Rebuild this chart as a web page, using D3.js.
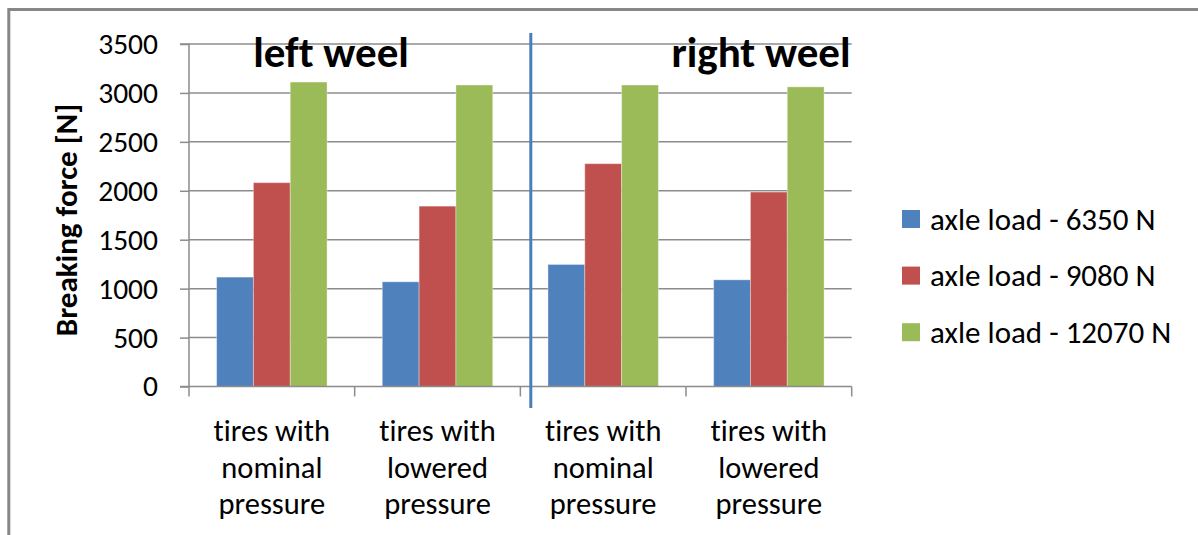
<!DOCTYPE html>
<html>
<head>
<meta charset="utf-8">
<script src="https://cdn.jsdelivr.net/npm/d3@7"></script>
<style>
  html, body { margin: 0; padding: 0; background: #fff; }
  svg { display: block; }
  text { font-family: Calibri, Carlito, "Liberation Sans", Arial, sans-serif; fill: #000;
         font-variant-ligatures: none; font-feature-settings: "liga" 0; }
</style>
</head>
<body>
<svg id="chart" width="1198" height="535"></svg>
<script>
// ---- data ----
const categories = [
  ["tires with", "nominal", "pressure"],
  ["tires with", "lowered", "pressure"],
  ["tires with", "nominal", "pressure"],
  ["tires with", "lowered", "pressure"]
];
const seriesNames = ["axle load - 6350 N", "axle load - 9080 N", "axle load - 12070 N"];
const load6350  = [1118, 1070, 1247, 1090];
const load9080  = [2083, 1843, 2277, 1987];
const load12070 = [3111, 3081, 3081, 3062];
const yTicks = [0, 500, 1000, 1500, 2000, 2500, 3000, 3500];
const sideLabels = ["left weel", "right weel"];
const yTitle = "Breaking force [N]";
const colors = ["#4f81bd", "#c0504d", "#9bbb59"];

const seriesValues = [load6350, load9080, load12070];

// ---- layout ----
const svg = d3.select("#chart");
const plot = { left: 189, right: 851.7, top: 44, bottom: 386.5 };

// outer frame (left and top edges visible)
svg.append("path")
  .attr("d", `M8.8,535 L8.8,9.5 L1198,9.5`)
  .attr("fill", "none").attr("stroke", "#878787").attr("stroke-width", 3);

const x0 = d3.scaleBand().domain(d3.range(categories.length))
  .range([plot.left, plot.right]).paddingInner(0).paddingOuter(0);
const y = d3.scaleLinear().domain([0, 3500]).range([plot.bottom, plot.top]);

// gridlines
svg.append("g").selectAll("line").data(yTicks.filter(d => d > 0)).join("line")
  .attr("x1", plot.left).attr("x2", plot.right)
  .attr("y1", d => y(d)).attr("y2", d => y(d))
  .attr("stroke", "#8c8c8c").attr("stroke-width", 1.5);

// bars (gap width 150%: bar = band / 4.5)
const barW = x0.bandwidth() / 4.5;
const gOff = x0.bandwidth() * 0.75 / 4.5;
const groups = svg.append("g").selectAll("g").data(categories).join("g")
  .attr("transform", (d, i) => `translate(${x0(i)},0)`);
groups.selectAll("rect").data((d, i) => seriesValues.map((s, k) => ({ k, v: s[i] }))).join("rect")
  .attr("x", d => gOff + d.k * barW)
  .attr("width", barW)
  .attr("y", d => y(d.v))
  .attr("height", d => y(0) - y(d.v))
  .attr("fill", d => colors[d.k])
  .attr("stroke", "rgba(255,255,255,0.35)").attr("stroke-width", 1);

// y axis
const yAxis = d3.axisLeft(y).tickValues(yTicks).tickSize(9).tickPadding(22).tickFormat(d3.format("d"));
const yg = svg.append("g").attr("transform", `translate(${plot.left},0)`).call(yAxis);
yg.select(".domain").attr("stroke", "#8c8c8c").attr("stroke-width", 1.5)
  .attr("d", `M-9,${plot.top}H0V${plot.bottom}H-9`);
yg.selectAll(".tick line").attr("stroke", "#8c8c8c").attr("stroke-width", 1.5);
yg.selectAll(".tick text").style("font-size", "29.5px").attr("fill", "#000")
  .attr("font-family", null);

// x axis
const xg = svg.append("g").attr("transform", `translate(0,${plot.bottom})`);
xg.append("line").attr("x1", plot.left).attr("x2", plot.right)
  .attr("stroke", "#8c8c8c").attr("stroke-width", 1.5);
const xTickPos = d3.range(categories.length + 1).map(i => plot.left + i * x0.bandwidth());
xg.selectAll(".xt").data(xTickPos).join("line").attr("class", "xt")
  .attr("x1", d => d).attr("x2", d => d).attr("y1", 0).attr("y2", 10)
  .attr("stroke", "#8c8c8c").attr("stroke-width", 1.5);

// category labels
const catG = svg.append("g").selectAll("text").data(categories).join("text")
  .attr("text-anchor", "middle")
  .style("font-size", "30.5px");
catG.each(function(lines, i) {
  const cx = x0(i) + x0.bandwidth() / 2;
  d3.select(this).selectAll("tspan").data(lines).join("tspan")
    .attr("x", cx)
    .attr("y", (d, j) => 441 + j * 36.5)
    .text(d => d);
});

// y axis title
svg.append("text")
  .attr("transform", "translate(77,220) rotate(-90)")
  .attr("text-anchor", "middle")
  .style("font-size", "31px").style("font-weight", "bold")
  .text(yTitle);

// divider
svg.append("line").attr("x1", 530.8).attr("x2", 530.8).attr("y1", 33).attr("y2", 408)
  .attr("stroke", "#4a7ebb").attr("stroke-width", 3);

// side labels
svg.append("text").attr("x", 331).attr("y", 67).attr("text-anchor", "middle")
  .style("font-size", "43px").style("font-weight", "bold").text(sideLabels[0]);
svg.append("text").attr("x", 761).attr("y", 67).attr("text-anchor", "middle")
  .style("font-size", "43px").style("font-weight", "bold").text(sideLabels[1]);

// legend
const leg = svg.append("g").selectAll("g").data(seriesNames).join("g")
  .attr("transform", (d, i) => `translate(902,${210 + i * 56.6})`);
leg.append("rect").attr("width", 18).attr("height", 18).attr("fill", (d, i) => colors[i]);
leg.append("text").attr("x", 28).attr("y", 19.5).style("font-size", "31px").text(d => d);
</script>
</body>
</html>
